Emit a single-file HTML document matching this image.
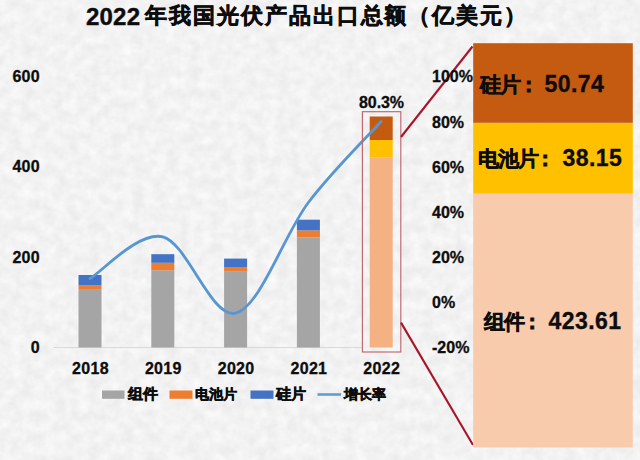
<!DOCTYPE html>
<html><head><meta charset="utf-8">
<style>
html,body{margin:0;padding:0;width:640px;height:460px;overflow:hidden;background:#ececec;}
body{position:relative;font-family:"Liberation Sans",sans-serif;color:#0d0d0d;}
svg{position:absolute;left:0;top:0;}
.t{position:absolute;white-space:nowrap;font-weight:bold;line-height:1;}
.c{-webkit-text-stroke:0.5px #0d0d0d;}
.n{letter-spacing:0.3px;-webkit-text-stroke:0.3px #0d0d0d;}
.col{display:inline-block;width:22px;padding-left:3px;box-sizing:border-box;}
.p{letter-spacing:0px;}
.big{letter-spacing:0.45px;-webkit-text-stroke:0.35px #0d0d0d;}
.cl{-webkit-text-stroke:0.8px #0d0d0d;}
</style></head><body>
<svg width="640" height="460" viewBox="0 0 640 460">
  <defs>
    <filter id="nz" x="0" y="0" width="100%" height="100%">
      <feTurbulence type="fractalNoise" baseFrequency="0.09" numOctaves="3" seed="11" result="n"/>
      <feColorMatrix type="matrix" values="0 0 0 0 1  0 0 0 0 1  0 0 0 0 1  1.1 0 0 0 -0.22" />
    </filter>
  </defs>
  <rect x="0" y="0" width="640" height="460" fill="#fff" filter="url(#nz)" opacity="1"/>
  <!-- axis baseline -->
  <line x1="54" y1="347.5" x2="362" y2="347.5" stroke="#d9d9d9" stroke-width="1"/>
  <!-- 2018 -->
  <rect x="78.5" y="289" width="23" height="58.5" fill="#a5a5a5"/>
  <rect x="78.5" y="285.4" width="23" height="3.6" fill="#ed7d31"/>
  <rect x="78.5" y="275" width="23" height="10.4" fill="#4472c4"/>
  <!-- 2019 -->
  <rect x="151.3" y="270.3" width="23" height="77.2" fill="#a5a5a5"/>
  <rect x="151.3" y="262.8" width="23" height="7.5" fill="#ed7d31"/>
  <rect x="151.3" y="254.2" width="23" height="8.6" fill="#4472c4"/>
  <!-- 2020 -->
  <rect x="224.1" y="271.7" width="23" height="75.8" fill="#a5a5a5"/>
  <rect x="224.1" y="267" width="23" height="4.7" fill="#ed7d31"/>
  <rect x="224.1" y="258.6" width="23" height="8.4" fill="#4472c4"/>
  <!-- 2021 -->
  <rect x="296.9" y="237.4" width="23" height="110.1" fill="#a5a5a5"/>
  <rect x="296.9" y="230.4" width="23" height="7" fill="#ed7d31"/>
  <rect x="296.9" y="219.7" width="23" height="10.7" fill="#4472c4"/>
  <!-- 2022 -->
  <rect x="369.7" y="157.3" width="23" height="190.2" fill="#f4b183"/>
  <rect x="369.7" y="140" width="23" height="17.3" fill="#ffc000"/>
  <rect x="369.7" y="116.5" width="23" height="23.5" fill="#c55a11"/>
  <!-- growth line -->
  <path d="M90.0,278.5 C102.1,271.6 138.5,231.0 162.8,236.8 C187.1,242.6 211.3,318.9 235.6,313.2 C259.9,307.5 284.1,234.4 308.4,202.5 C332.7,170.6 369.1,135.0 381.2,121.5" fill="none" stroke="#5896d2" stroke-width="2.8" stroke-linecap="round"/>
  <!-- highlight rect -->
  <rect x="362.4" y="111.7" width="38.4" height="240.3" fill="none" stroke="#bf6670" stroke-width="1.15"/>
  <!-- zoom lines -->
  <line x1="401" y1="137" x2="472.5" y2="46.5" stroke="#a91528" stroke-width="2.1"/>
  <line x1="401" y1="322.6" x2="473" y2="445" stroke="#a91528" stroke-width="2.1"/>
  <!-- big bar -->
  <rect x="473.2" y="193.5" width="159.6" height="254" fill="#f8cbad"/>
  <rect x="473.2" y="122.8" width="159.6" height="70.7" fill="#ffc000"/>
  <rect x="473.2" y="43.2" width="159.6" height="79.6" fill="#c55a11"/>
  <!-- legend swatches -->
  <rect x="102" y="390.5" width="22.5" height="8.3" fill="#a5a5a5"/>
  <rect x="169.5" y="390.5" width="23" height="8.3" fill="#ed7d31"/>
  <rect x="250.5" y="390.5" width="23" height="8.3" fill="#4472c4"/>
  <line x1="317.5" y1="394.5" x2="341" y2="394.5" stroke="#5b9bd5" stroke-width="2.5"/>
</svg>

<div class="t" style="left:86px;top:5px;font-size:24px;letter-spacing:0.2px;-webkit-text-stroke:0.4px #0d0d0d;">2022</div>
<div class="t c" style="left:145px;top:6px;font-size:21.5px;letter-spacing:1.95px;-webkit-text-stroke:0.6px #0d0d0d;">年我国光伏产品出口总额（亿美元）</div>

<div class="t n" style="left:0;width:40px;text-align:right;top:69.2px;font-size:16px;">600</div>
<div class="t n" style="left:0;width:40px;text-align:right;top:159.2px;font-size:16px;">400</div>
<div class="t n" style="left:0;width:40px;text-align:right;top:250.2px;font-size:16px;">200</div>
<div class="t n" style="left:0;width:40px;text-align:right;top:340.2px;font-size:16px;">0</div>

<div class="t n" style="left:40.5px;width:100px;text-align:center;top:360.7px;font-size:16px;">2018</div>
<div class="t n" style="left:113.3px;width:100px;text-align:center;top:360.7px;font-size:16px;">2019</div>
<div class="t n" style="left:186.1px;width:100px;text-align:center;top:360.7px;font-size:16px;">2020</div>
<div class="t n" style="left:258.9px;width:100px;text-align:center;top:360.7px;font-size:16px;">2021</div>
<div class="t n" style="left:331.7px;width:100px;text-align:center;top:360.7px;font-size:16px;">2022</div>

<div class="t n" style="left:331.5px;width:100px;text-align:center;top:94.7px;font-size:16px;letter-spacing:-0.1px;">80.3%</div>

<div class="t n p" style="left:432px;top:69.2px;font-size:16px;">100%</div>
<div class="t n p" style="left:432px;top:114.7px;font-size:16px;">80%</div>
<div class="t n p" style="left:432px;top:159.7px;font-size:16px;">60%</div>
<div class="t n p" style="left:432px;top:204.7px;font-size:16px;">40%</div>
<div class="t n p" style="left:432px;top:250.2px;font-size:16px;">20%</div>
<div class="t n p" style="left:432px;top:295.2px;font-size:16px;">0%</div>
<div class="t n p" style="left:432px;top:340.2px;font-size:16px;">-20%</div>

<div class="t" style="left:128px;top:387px;font-size:14.5px;"><span class="c">组件</span></div>
<div class="t" style="left:194.5px;top:387px;font-size:14px;"><span class="c">电池片</span></div>
<div class="t" style="left:276px;top:387px;font-size:14.5px;"><span class="c">硅片</span></div>
<div class="t" style="left:344px;top:387px;font-size:14px;"><span class="c">增长率</span></div>

<div class="t c" style="left:480px;top:74px;font-size:21px;letter-spacing:-1px;">硅片</div>
<div class="t cl" style="left:525px;top:74px;font-size:22px;">:</div>
<div class="t big" style="left:544.5px;top:72.5px;font-size:23px;">50.74</div>
<div class="t c" style="left:477.5px;top:147.5px;font-size:21px;letter-spacing:-1px;">电池片</div>
<div class="t cl" style="left:541.5px;top:147.5px;font-size:22px;">:</div>
<div class="t big" style="left:562.5px;top:146.5px;font-size:23px;">38.15</div>
<div class="t c" style="left:484px;top:311px;font-size:21px;letter-spacing:-1px;">组件</div>
<div class="t cl" style="left:528.5px;top:311px;font-size:22px;">:</div>
<div class="t big" style="left:548.5px;top:310px;font-size:23px;">423.61</div>
</body></html>
